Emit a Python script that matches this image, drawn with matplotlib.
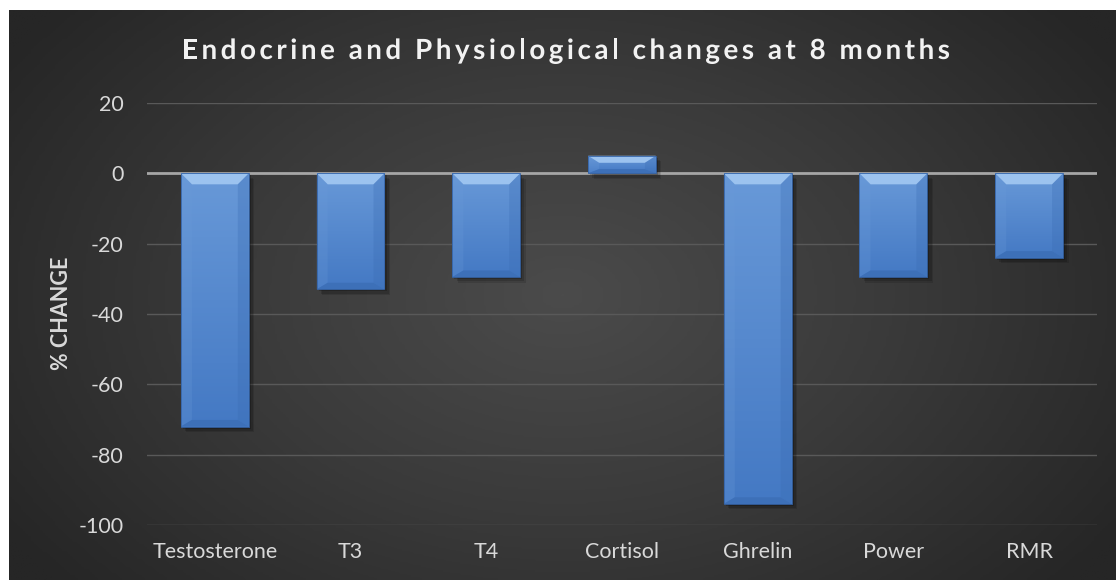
import numpy as np
import matplotlib
matplotlib.use("Agg")
import matplotlib.pyplot as plt
import matplotlib.patheffects as pe
from matplotlib.patches import Polygon, Rectangle
from matplotlib.colors import LinearSegmentedColormap

# data
categories = ["Testosterone", "T3", "T4", "Cortisol", "Ghrelin", "Power", "RMR"]
pct_change = [-72, -33, -29.5, 5, -94, -29.5, -24]
y_ticks = [-100, -80, -60, -40, -20, 0, 20]
title = "Endocrine and Physiological changes at 8 months"

W, H = 1116, 580
plt.rcParams["font.family"] = ["Lato", "DejaVu Sans"]
plt.rcParams["axes.unicode_minus"] = False

fig = plt.figure(figsize=(W / 100, H / 100), dpi=100)
fig.patch.set_facecolor("white")

# dark radial background of the chart area
bg = fig.add_axes([9 / W, 0, 1 - 9 / W, 1 - 10 / H])
bg.set_axis_off()
gx, gy = np.meshgrid(np.linspace(-1, 1, 400), np.linspace(-1, 1, 220))
r = np.sqrt((gx / 1.0) ** 2 + (gy / 1.3) ** 2)
r = np.clip(r, 0, 1.2) / 1.2
bg_cmap = LinearSegmentedColormap.from_list("bg", ["#4b4b4b", "#3a3a3a", "#262626"])
bg.imshow(r, cmap=bg_cmap, aspect="auto", extent=[0, 1, 0, 1], vmin=0, vmax=1)
bg.set_xlim(0, 1)
bg.set_ylim(0, 1)

ax = fig.add_axes([147 / W, 1 - 525 / H, (1097 - 147) / W, (525 - 103) / H])
ax.patch.set_alpha(0)
x = np.arange(len(categories))
ax.set_xlim(-0.5, len(categories) - 0.5)
ax.set_ylim(-100, 20)

for t in y_ticks:
    if t == 0:
        continue
    ax.axhline(t, color="#595959", lw=1.0, zorder=1)
ax.axhline(0, color="#a6a6a6", lw=2.0, zorder=2)

bars = ax.bar(x, pct_change, width=0.5, color="#5a8cd2", zorder=3,
              edgecolor="none")

# bar shading: gradient + bevel, built from each bar's own geometry
grad_cmap = LinearSegmentedColormap.from_list("bar", ["#4479c4", "#6899d8"])
px_x = (len(categories)) / (1097 - 147)   # data units per pixel in x
px_y = 120 / (525 - 103)                  # data units per pixel in y
for b in bars:
    bx, by = b.get_x(), b.get_y()
    bw, bh = b.get_width(), b.get_height()
    top, bot = max(by, by + bh), min(by, by + bh)
    # soft drop shadow: a few offset layers
    b.set_path_effects([pe.SimplePatchShadow(offset=(4, -4), shadow_rgbFace="black", alpha=0.12),
                        pe.SimplePatchShadow(offset=(3, -3), shadow_rgbFace="black", alpha=0.15),
                        pe.SimplePatchShadow(offset=(1.5, -1.5), shadow_rgbFace="black", alpha=0.2),
                        pe.Normal()])
    grad = np.linspace(0, 1, 100).reshape(-1, 1)
    im = ax.imshow(grad, cmap=grad_cmap, aspect="auto", origin="lower",
                   extent=[bx, bx + bw, bot, top], zorder=4)
    clip = Rectangle((bx, bot), bw, top - bot, transform=ax.transData)
    im.set_clip_path(clip)
    dx = 11 * px_x
    dy = min(11 * px_y, (top - bot) * 0.4)
    # top bevel
    ax.add_patch(Polygon([(bx, top), (bx + bw, top), (bx + bw - dx, top - dy), (bx + dx, top - dy)],
                         closed=True, facecolor="#9cc3ef", edgecolor="none", zorder=5))
    # side bevels (subtle)
    ax.add_patch(Polygon([(bx, top), (bx + dx, top - dy), (bx + dx, bot + dy * 0.6), (bx, bot)],
                         closed=True, facecolor="#6a9ad8", edgecolor="none", alpha=0.25, zorder=5))
    ax.add_patch(Polygon([(bx + bw, top), (bx + bw - dx, top - dy), (bx + bw - dx, bot + dy * 0.6), (bx + bw, bot)],
                         closed=True, facecolor="#3a6cb3", edgecolor="none", alpha=0.3, zorder=5))
    # bottom bevel
    ax.add_patch(Polygon([(bx, bot), (bx + bw, bot), (bx + bw - dx, bot + dy * 0.6), (bx + dx, bot + dy * 0.6)],
                         closed=True, facecolor="#3d70b8", edgecolor="none", zorder=5))
    ax.add_patch(Rectangle((bx, bot), bw, top - bot, facecolor="none", edgecolor="#3564a8",
                           lw=0.6, zorder=6))

ax.set_xticks(x)
ax.set_xticklabels(categories)
ax.set_yticks(y_ticks)
ax.tick_params(axis="both", length=0, colors="#d9d9d9", labelsize=15.5)
ax.tick_params(axis="x", pad=12)
ax.tick_params(axis="y", pad=17)
for s in ax.spines.values():
    s.set_visible(False)

fig.text(62 / W, 1 - 313 / H, "% CHANGE", rotation=90, ha="center", va="center",
         color="#d9d9d9", fontsize=15.5, fontweight="bold")

# spaced-out title, laid out one character at a time
fig.canvas.draw()
renderer = fig.canvas.get_renderer()
t_size = 20
t_left, t_right, t_y = 182, 950, 1 - 51 / H


def text_width(s):
    tmp = fig.text(0, 0, s, fontsize=t_size, fontweight="bold")
    w = tmp.get_window_extent(renderer).width
    tmp.remove()
    return w


widths = []
for ch in title:
    if ch == " ":
        widths.append(text_width("a a") - text_width("aa"))
    else:
        widths.append(text_width(ch))
extra = ((t_right - t_left) - sum(widths)) / (len(title) - 1)
cx = t_left
for ch, w in zip(title, widths):
    if ch != " ":
        fig.text(cx / W, t_y, ch, fontsize=t_size, fontweight="bold", color="#f2f2f2",
                 ha="left", va="center",
                 path_effects=[pe.SimpleLineShadow(offset=(1.5, -2), alpha=0.5), pe.Normal()])
    cx += w + extra

fig.savefig("out.png", dpi=100)
